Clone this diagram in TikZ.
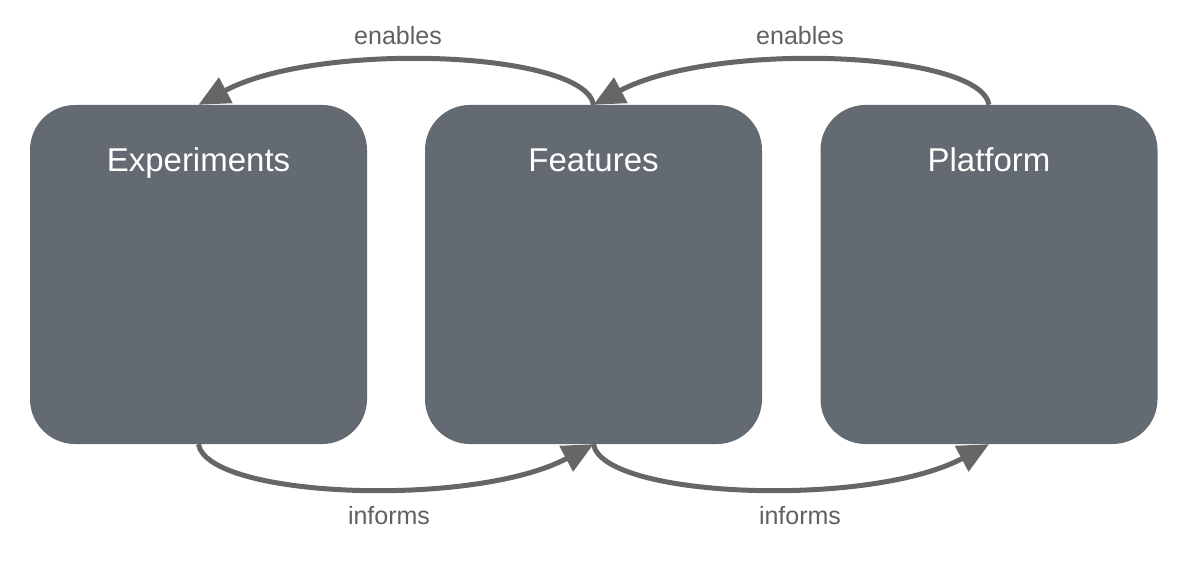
\documentclass[tikz,border=0pt]{standalone}
\usepackage{fontspec}
\setmainfont{Liberation Sans}
\usetikzlibrary{arrows.meta}
\definecolor{boxfill}{HTML}{646A72}
\definecolor{flow}{HTML}{666666}
\definecolor{labeltext}{HTML}{5F6062}
\begin{document}
\begin{tikzpicture}[x=1pt,y=-1pt,
  stage/.style={fill=boxfill, draw=none, inner sep=0pt, rounded corners=45pt,
    minimum width=337pt, minimum height=339pt},
  stagetitle/.style={anchor=base, text=white, font=\fontsize{33}{40}\selectfont, inner sep=0pt},
  flowarrow/.style={draw=flow, line width=5pt, -{Triangle[length=31pt,width=28pt]}},
  flowlabel/.style={anchor=base, text=labeltext, font=\fontsize{25}{30}\selectfont, inner sep=0pt}]
  \useasboundingbox (0,0) rectangle (1200,564);
  \fill[white] (0,0) rectangle (1200,564);

  % the three stages
  \node[stage] (exp)  at (198.5,274.5) {};
  \node[stage] (feat) at (593.5,274.5) {};
  \node[stage] (plat) at (989,274.5) {};

  \node[stagetitle] (expT)  at ([yshift=-67pt]exp.north)  {Experiments};
  \node[stagetitle] (featT) at ([yshift=-67pt]feat.north) {Features};
  \node[stagetitle] (platT) at ([yshift=-67pt]plat.north) {Platform};

  % "enables" arcs over the top
  \draw[flowarrow] (feat.north) .. controls +(-9,-54) and +(120,-64) .. (exp.north);
  \draw[flowarrow] (plat.north) .. controls +(-9,-54) and +(120,-64) .. (feat.north);

  % "informs" arcs underneath
  \draw[flowarrow] (exp.south) .. controls +(9,54) and +(-120,64) .. (feat.south);
  \draw[flowarrow] (feat.south) .. controls +(9,54) and +(-120,64) .. (plat.south);

  \node[flowlabel] (en1) at (398,45) {enables};
  \node[flowlabel] (en2) at (800,45) {enables};
  \node[flowlabel] (in1) at (389,524) {informs};
  \node[flowlabel] (in2) at (800,524) {informs};
\end{tikzpicture}
\end{document}
